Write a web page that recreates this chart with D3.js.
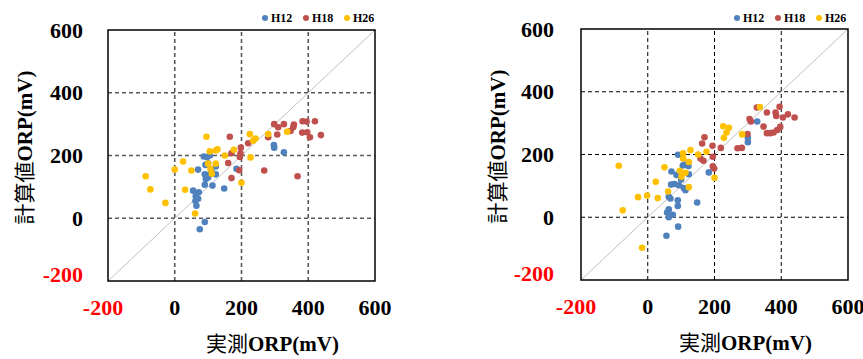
<!DOCTYPE html>
<html>
<head>
<meta charset="utf-8">
<title>ORP scatter</title>
<script src="https://cdn.jsdelivr.net/npm/d3@7"></script>
<style>
    body { margin: 0; background: #fff; }
    .tick-lbl { font-family: "Liberation Serif", "DejaVu Serif", serif; font-weight: bold; font-size: 22px; }
    .leg-lbl { font-family: "Liberation Serif", serif; font-weight: bold; font-size: 12px; }
    .ax-title { font-size: 21px; }
</style>
</head>
<body>
<div id="chart"></div>
<script>
    // axis ticks shared by both panels
    var tickValues = [-200, 0, 200, 400, 600];
    var seriesNames = ["H12", "H18", "H26"];
    var seriesColors = ["#4F81BD", "#C0504D", "#FFC000"];

    // left panel: [measured, calculated]
    var leftH12 = [[87,197],[97,195],[105,200],[70,155],[92,170],[100,175],[123,165],[90,140],[105,140],[123,140],
        [93,125],[90,107],[113,104],[148,95],[55,88],[72,83],[63,70],[70,62],[62,55],[65,40],[90,-12],[75,-35],
        [185,158],[297,233],[298,225],[327,210],[110,150],[100,130]];
    var leftH18 = [[165,260],[298,300],[310,290],[327,300],[357,299],[355,290],[383,309],[395,308],[420,309],
        [382,273],[397,274],[405,258],[438,265],[307,267],[280,258],[347,278],[220,239],[198,225],[170,207],
        [197,207],[195,195],[160,176],[193,153],[170,128],[268,152],[368,134]];
    var leftH26 = [[-87,134],[-73,92],[-28,49],[0,155],[25,181],[50,152],[31,91],[61,15],[95,260],[105,213],
        [123,216],[128,220],[150,200],[123,174],[100,174],[107,157],[111,142],[177,218],[225,268],[235,247],
        [242,254],[280,268],[337,276],[200,113],[227,194]];

    // right panel
    var rightH12 = [[91,199],[105,165],[122,163],[110,168],[71,146],[86,135],[123,137],[70,104],[80,106],[93,102],
        [108,93],[113,86],[63,65],[68,60],[90,54],[90,36],[63,25],[58,15],[63,0],[75,8],[91,-30],[56,-59],
        [148,47],[183,143],[300,253],[300,239],[328,305],[100,120]];
    var rightH18 = [[327,350],[357,334],[383,334],[385,323],[395,352],[405,318],[420,328],[440,318],[305,313],
        [309,305],[347,289],[357,268],[367,268],[377,270],[388,278],[397,288],[299,265],[269,220],[282,221],
        [219,221],[194,228],[170,255],[163,235],[195,193],[195,162],[199,155],[167,180],[158,187]];
    var rightH26 = [[-87,164],[-75,22],[-29,64],[-2,69],[-17,-97],[30,61],[24,113],[50,159],[61,82],[106,204],
        [106,187],[123,176],[128,214],[151,200],[176,209],[96,148],[113,142],[101,129],[123,96],[200,126],
        [226,290],[243,285],[236,270],[228,253],[283,264],[336,351]];

    var w = 863, h = 359;
    var svg = d3.select("#chart").append("svg")
        .attr("width", w)
        .attr("height", h);

    var panels = [
        { data: [leftH12, leftH18, leftH26], x0: 108, x1: 375, y0: 281, y1: 30, grid: "#595959", gridW: 1.6, dash: "4,3", legX: 265, yLbl: 83 },
        { data: [rightH12, rightH18, rightH26], x0: 581, x1: 848, y0: 280, y1: 29, grid: "#000", gridW: 1, dash: "4,3", legX: 737, yLbl: 554 }
    ];

    panels.forEach(function(p) {
        var x = d3.scaleLinear().domain([-200, 600]).range([p.x0, p.x1]);
        var y = d3.scaleLinear().domain([-200, 600]).range([p.y0, p.y1]);
        var g = svg.append("g");

        // dashed grid
        g.selectAll(".vg").data(tickValues.slice(1, -1)).enter().append("line")
            .attr("x1", function(d) { return x(d); }).attr("x2", function(d) { return x(d); })
            .attr("y1", p.y0).attr("y2", p.y1)
            .attr("stroke", p.grid).attr("stroke-width", p.gridW).attr("stroke-dasharray", p.dash);
        g.selectAll(".hg").data(tickValues.slice(1, -1)).enter().append("line")
            .attr("y1", function(d) { return y(d); }).attr("y2", function(d) { return y(d); })
            .attr("x1", p.x0).attr("x2", p.x1)
            .attr("stroke", p.grid).attr("stroke-width", p.gridW).attr("stroke-dasharray", p.dash);

        // 1:1 line
        g.append("line")
            .attr("x1", x(-200)).attr("y1", y(-200)).attr("x2", x(600)).attr("y2", y(600))
            .attr("stroke", "#b0b0b0").attr("stroke-width", 0.8);

        // points
        p.data.forEach(function(s, i) {
            g.selectAll(null).data(s).enter().append("circle")
                .attr("cx", function(d) { return x(d[0]); })
                .attr("cy", function(d) { return y(d[1]); })
                .attr("r", 3.3)
                .attr("fill", seriesColors[i]);
        });

        // frame
        g.append("rect")
            .attr("x", p.x0).attr("y", p.y1)
            .attr("width", p.x1 - p.x0).attr("height", p.y0 - p.y1)
            .attr("fill", "none").attr("stroke", "#000").attr("stroke-width", 1.5);

        // tick labels
        g.selectAll(".yl").data(tickValues).enter().append("text")
            .attr("class", "tick-lbl")
            .attr("x", p.yLbl)
            .attr("y", function(d) { return y(d) + (d === -200 ? -7 : 0); })
            .attr("dy", "0.35em")
            .attr("text-anchor", "end")
            .attr("fill", function(d) { return d < 0 ? "#FF0000" : "#000"; })
            .text(function(d) { return d; });
        g.selectAll(".xl").data(tickValues).enter().append("text")
            .attr("class", "tick-lbl")
            .attr("x", function(d) { return x(d) + (d === -200 ? -5 : 0); })
            .attr("y", p.y0 + 26)
            .attr("dy", "0.35em")
            .attr("text-anchor", "middle")
            .attr("fill", function(d) { return d < 0 ? "#FF0000" : "#000"; })
            .text(function(d) { return d; });

        // axis titles: CJK in gothic, ORP(mV) in bold serif
        var xt = g.append("text").attr("class", "ax-title")
            .attr("x", (p.x0 + p.x1) / 2 + 31).attr("y", p.y0 + 70)
            .attr("text-anchor", "middle");
        xt.append("tspan").attr("font-family", "Noto Sans CJK JP").text("実測");
        xt.append("tspan").attr("font-family", "Liberation Serif").attr("font-weight", "bold").text("ORP(mV)");

        var yt = g.append("text").attr("class", "ax-title")
            .attr("transform", "translate(" + (p.x0 - 76) + "," + ((p.y0 + p.y1) / 2 - 8) + ") rotate(-90)")
            .attr("text-anchor", "middle");
        yt.append("tspan").attr("font-family", "Noto Sans CJK JP").text("計算値");
        yt.append("tspan").attr("font-family", "Liberation Serif").attr("font-weight", "bold").text("ORP(mV)");

        // legend
        var leg = g.selectAll(".leg").data(seriesNames).enter().append("g")
            .attr("transform", function(d, i) { return "translate(" + (p.legX + i * 41) + ",18)"; });
        leg.append("circle").attr("r", 3).attr("fill", function(d, i) { return seriesColors[i]; });
        leg.append("text").attr("class", "leg-lbl")
            .attr("x", 6).attr("dy", "0.35em")
            .text(function(d) { return d; });
    });
</script>
</body>
</html>
